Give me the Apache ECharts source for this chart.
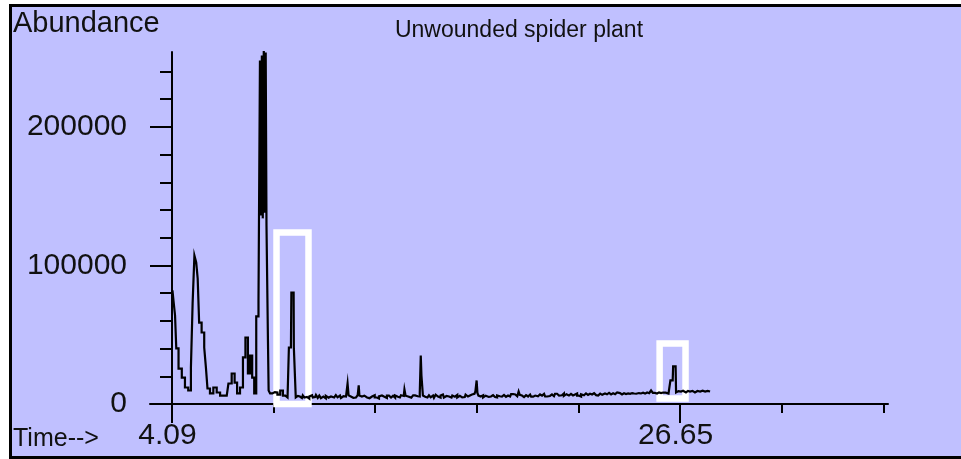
<!DOCTYPE html>
<html><head><meta charset="utf-8">
<script src="https://cdn.jsdelivr.net/npm/echarts@6/dist/echarts.min.js"></script>
<style>
html,body{margin:0;padding:0;background:#fff;width:961px;height:459px;overflow:hidden;}
#panel{position:absolute;left:9px;top:4px;width:952px;height:455px;box-sizing:border-box;background:#c0c0ff;border-top:3px solid #000;border-left:3px solid #000;border-bottom:3px solid #000;border-right:none;}
#chart{position:absolute;left:0;top:0;width:961px;height:459px;}
</style></head><body>
<div id="panel"></div><div id="chart"></div>
<script>
// Retention time (min)
const times = [4.11,4.20,4.25,4.31,4.45,4.60,4.73,4.89,4.97,5.04,5.13,5.20,5.26,5.33,5.48,5.56,5.63,5.70,5.85,6.00,
  6.15,6.30,6.52,6.67,6.81,6.93,7.03,7.19,7.29,7.41,7.51,7.60,7.70,7.78,7.88,7.98,8.01,8.06,8.10,8.14,
  8.19,8.23,8.27,8.30,8.34,8.36,8.40,8.49,8.60,8.71,8.83,8.96,9.07,9.18,9.26,9.30,9.37,9.41,9.49,9.51,
  9.57,9.60,9.68,9.77,9.86,9.93,10.00,10.08,10.15,10.22,10.31,10.37,10.44,10.52,10.60,10.66,10.74,10.81,10.88,10.96,
  11.04,11.11,11.19,11.25,11.33,11.40,11.48,11.55,11.63,11.70,11.77,11.86,11.91,11.95,11.99,12.07,12.14,12.22,12.30,12.37,
  12.39,12.43,12.48,12.56,12.63,12.71,12.79,12.86,12.97,13.05,13.13,13.24,13.32,13.41,13.50,13.58,13.68,13.77,13.86,13.95,
  14.04,14.12,14.21,14.30,14.38,14.44,14.48,14.53,14.62,14.68,14.75,14.84,14.93,15.00,15.06,15.12,15.15,15.18,15.21,15.25,
  15.33,15.40,15.46,15.54,15.61,15.68,15.76,15.83,15.90,15.98,16.05,16.12,16.20,16.28,16.35,16.43,16.50,16.57,16.65,16.72,
  16.79,16.87,16.94,17.01,17.09,17.16,17.23,17.32,17.41,17.52,17.60,17.63,17.67,17.72,17.80,17.87,17.94,18.02,18.10,18.21,
  18.30,18.39,18.48,18.57,18.65,18.74,18.83,18.92,19.01,19.10,19.19,19.28,19.38,19.46,19.50,19.56,19.63,19.72,19.81,19.90,
  19.99,20.08,20.17,20.26,20.34,20.43,20.52,20.61,20.70,20.79,20.87,20.96,21.05,21.14,21.23,21.32,21.40,21.45,21.53,21.60,
  21.67,21.76,21.85,21.94,22.03,22.12,22.21,22.30,22.38,22.47,22.56,22.65,22.74,22.83,22.92,23.01,23.10,23.19,23.27,23.36,
  23.45,23.54,23.63,23.72,23.81,23.90,23.98,24.07,24.16,24.25,24.34,24.43,24.52,24.61,24.70,24.78,24.87,24.96,25.05,25.14,
  25.23,25.32,25.40,25.48,25.58,25.67,25.76,25.85,25.94,26.01,26.07,26.20,26.24,26.32,26.36,26.45,26.49,26.58,26.69,26.78,
  26.91,27.00,27.09,27.20,27.31,27.42,27.54,27.65,27.76,27.87,27.98];
// Abundance
const abundance = [82000,74700,63900,40100,25600,19100,11900,9750,26400,72600,107200,102200,90600,58800,51600,40800,26400,11200,7600,11900,
  8300,6100,6100,14800,22000,15500,7600,11900,33600,48000,22000,35000,19100,7600,63200,74700,248000,136000,251600,134000,
  256700,138000,253800,128900,128900,45800,9750,7600,8600,8300,6800,9750,6000,4700,5200,40800,40800,80500,80500,40800,
  40800,4700,5800,5400,4300,6200,4700,5100,3900,5400,6300,4700,5000,6600,4400,6100,4200,5300,4000,5900,
  4600,5400,6800,4700,4900,6400,4800,6100,4300,5600,5400,6000,14800,6200,5400,6500,4500,4700,5800,6400,
  13400,6100,5400,4300,6000,4700,5600,4200,5400,6300,4700,4000,5500,6200,5400,4400,6000,4700,5900,4500,
  6100,5200,4700,6300,5800,10500,6000,5400,6600,4600,4700,6200,7600,5600,5400,8000,35000,20600,20600,6100,
  5200,6400,4700,6300,4800,6100,4400,6700,5400,4600,6200,6900,4700,5800,5400,6800,4600,6100,5300,6600,
  4700,5900,4800,6100,5000,6800,5400,6200,6900,7400,9000,17000,8000,6100,5400,6300,4700,6000,5100,5400,
  6400,5000,4700,6200,5600,5400,6600,5200,6100,5400,7200,6900,5600,7000,9000,6600,6100,5000,6400,5400,
  6800,5300,6100,7200,5600,6900,6000,7300,5400,6600,5800,6900,5600,7400,6100,7000,6300,7600,5900,7100,
  6100,7300,6200,6900,7600,6000,5400,7000,6300,7600,6500,7400,6900,7800,6400,6100,7500,6600,7600,7000,
  8000,6900,7700,7100,8300,7200,7900,6900,7800,7200,7600,7300,7900,7600,7400,7900,7600,8100,7500,8300,
  7800,8600,9750,8000,7600,8400,7900,8300,7800,8200,7600,8000,17000,17000,27100,27100,8300,9300,9000,9600,
  8300,9400,9000,9500,8300,9400,9000,9600,9000,9500,9000];

const xLabelTicks = [4.09, 26.65];
const xMinorTicks = [8.60, 13.11, 17.63, 22.14, 31.16, 35.67];
const yLabelTicks = [0, 100000, 200000];
const yMinorTicks = [20000, 40000, 60000, 80000, 120000, 140000, 160000, 180000, 220000, 240000];
// highlight boxes: [timeStart, abundanceTop, timeEnd, abundanceBottom]
const boxes = [[8.73, 123800, 10.15, -3600], [25.74, 43700, 26.89, 4000]];
const titleText = 'Unwounded spider plant';
const yTitle = 'Abundance';
const xTitle = 'Time-->';

const FONT = '"Liberation Sans", Arial, sans-serif';
const X_MIN = 3.113, X_MAX = 35.88, Y_MIN = 0, Y_MAX = 254100;

const chart = echarts.init(document.getElementById('chart'), null, {renderer: 'canvas'});
const seriesData = times.map((t, i) => [t, abundance[i]]);

chart.setOption({
  animation: false,
  backgroundColor: 'transparent',
  grid: {left: 150, right: 73, top: 52, bottom: 55, containLabel: false},
  xAxis: [
    {type: 'value', min: X_MIN, max: X_MAX, position: 'bottom',
     axisLine: {show: true, onZero: false, lineStyle: {color: '#000', width: 2}},
     axisTick: {show: true, customValues: xLabelTicks, length: 19, lineStyle: {color: '#000', width: 2}},
     axisLabel: {show: true, customValues: xLabelTicks, margin: 17, color: '#111', fontSize: 30,
       fontFamily: FONT, padding: [0, 9, 0, 0], formatter: v => v.toFixed(2)},
     splitLine: {show: false}},
    {type: 'value', min: X_MIN, max: X_MAX, position: 'bottom',
     axisLine: {show: false, onZero: false},
     axisTick: {show: true, customValues: xMinorTicks, length: 9, lineStyle: {color: '#000', width: 2}},
     axisLabel: {show: false}, splitLine: {show: false}}
  ],
  yAxis: [
    {type: 'value', min: Y_MIN, max: Y_MAX, position: 'left', offset: -22,
     axisLine: {show: true, onZero: false, lineStyle: {color: '#000', width: 2}},
     axisTick: {show: true, customValues: yLabelTicks, length: 22, lineStyle: {color: '#000', width: 2}},
     axisLabel: {show: true, customValues: yLabelTicks, margin: 45, color: '#111', fontSize: 30,
       fontFamily: FONT, formatter: v => String(v)},
     splitLine: {show: false}},
    {type: 'value', min: Y_MIN, max: Y_MAX, position: 'left', offset: -22,
     axisLine: {show: false, onZero: false},
     axisTick: {show: true, customValues: yMinorTicks, length: 12, lineStyle: {color: '#000', width: 2}},
     axisLabel: {show: false}, splitLine: {show: false}}
  ],
  series: [
    {type: 'line', xAxisIndex: 0, yAxisIndex: 0, data: seriesData, showSymbol: false, symbol: 'none',
     step: 'middle', lineStyle: {color: '#000', width: 2.2, join: 'miter'}, silent: true, z: 3},
    {type: 'line', xAxisIndex: 0, yAxisIndex: 0, data: [], clip: false, silent: true, z: 5,
     markArea: {silent: true,
       itemStyle: {color: 'rgba(0,0,0,0)', borderColor: '#ffffff', borderWidth: 6.5},
       data: boxes.map(b => [{coord: [b[0], b[1]]}, {coord: [b[2], b[3]]}])}}
  ],
  graphic: [
    {type: 'text', left: 13, top: 9, style: {text: yTitle, fontSize: 29, fontFamily: FONT, fill: '#111'}},
    {type: 'text', left: 13, top: 427, style: {text: xTitle, fontSize: 25, fontFamily: FONT, fill: '#111'}},
    {type: 'text', x: 519, y: 31, style: {text: titleText, fontSize: 23, fontFamily: FONT, fill: '#111',
      align: 'center', verticalAlign: 'middle'}}
  ]
});
</script>
</body></html>
